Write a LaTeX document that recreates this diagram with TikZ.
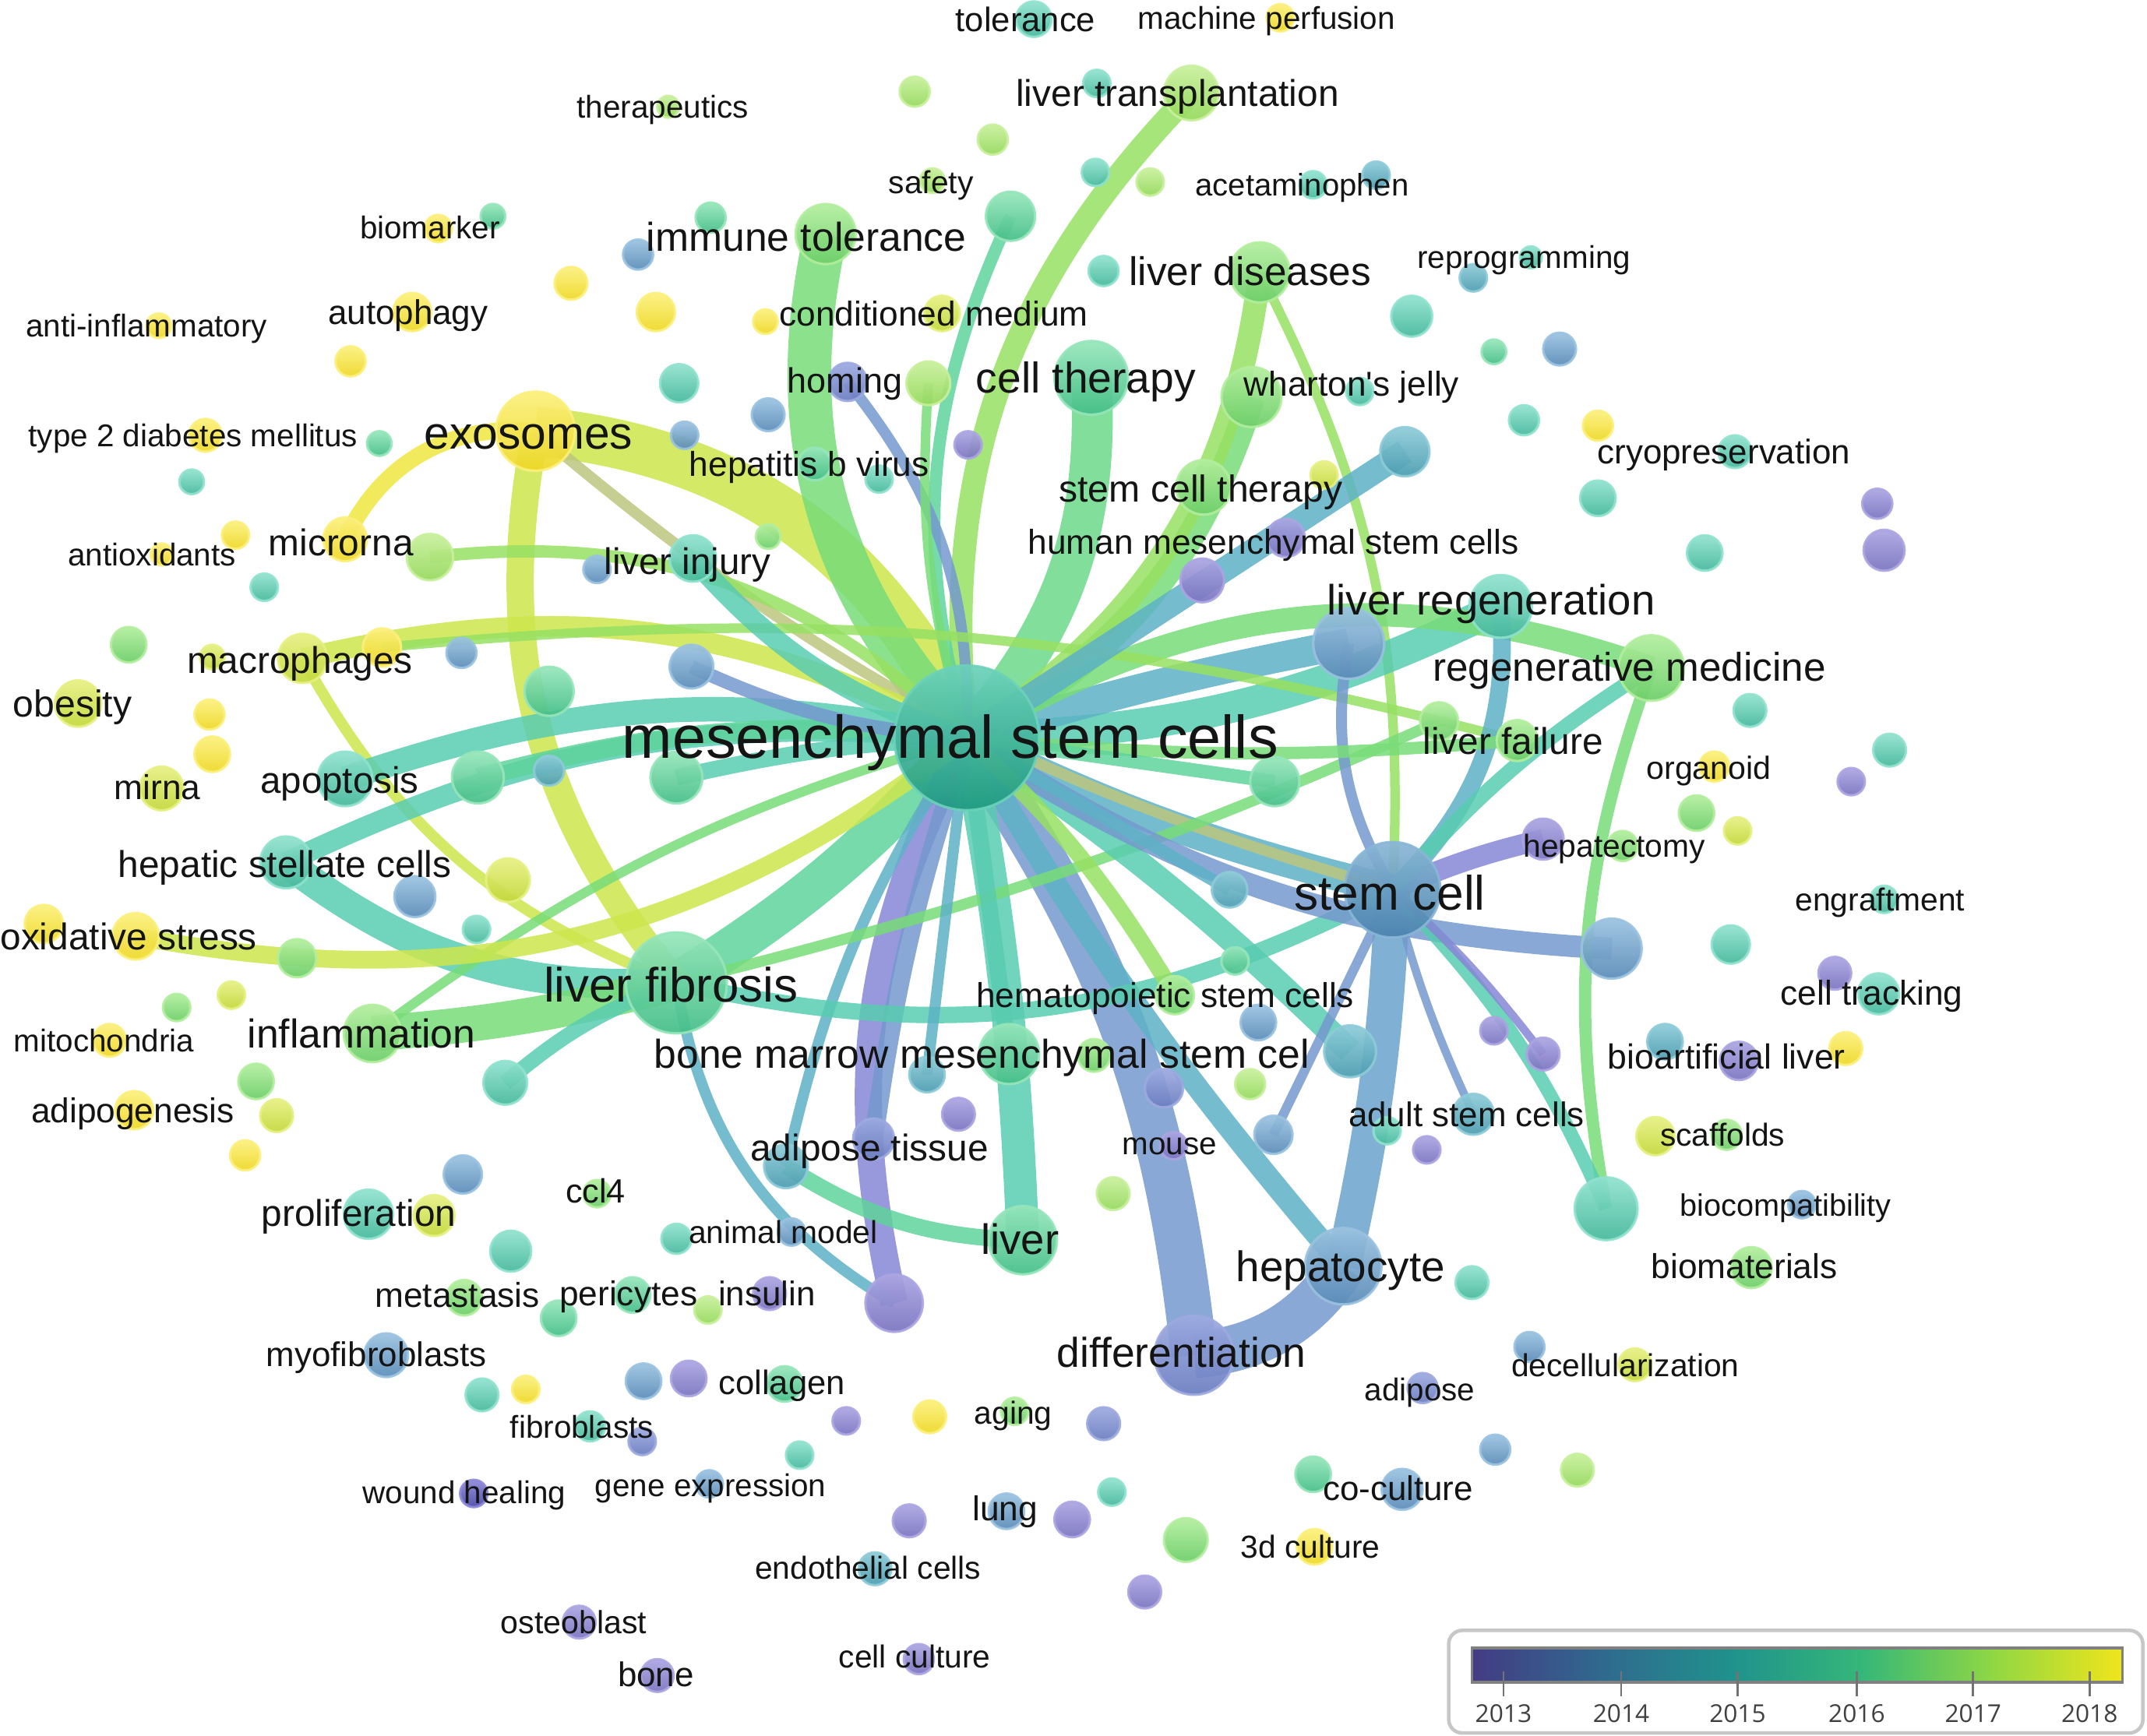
\documentclass[tikz,border=0pt]{standalone}
\usepackage{fontspec}
\setmainfont{Liberation Sans}
\newfontfamily\barfont{Open Sans}
\pgfdeclarelayer{background}
\pgfsetlayers{background,main}
% node colours (top / bottom)
\definecolor{taa}{HTML}{ABA5E2}\definecolor{baa}{HTML}{7A73C0}
\definecolor{tab}{HTML}{9DAAE0}\definecolor{bab}{HTML}{6A7DC0}
\definecolor{tbb}{HTML}{9AC2E0}\definecolor{bbb}{HTML}{5A8BB8}
\definecolor{tbt}{HTML}{8ECBD8}\definecolor{bbt}{HTML}{4A9CB0}
\definecolor{ttt}{HTML}{90E2CE}\definecolor{btt}{HTML}{45B89C}
\definecolor{ttg}{HTML}{96E6BA}\definecolor{btg}{HTML}{44BE88}
\definecolor{tgg}{HTML}{B2EE9E}\definecolor{bgg}{HTML}{6CCE68}
\definecolor{tlg}{HTML}{C8F09C}\definecolor{blg}{HTML}{95D95C}
\definecolor{tyg}{HTML}{E6F082}\definecolor{byg}{HTML}{C2D83A}
\definecolor{tyy}{HTML}{FCF07C}\definecolor{byy}{HTML}{EED826}
\definecolor{tms}{HTML}{6CD2BA}\definecolor{bms}{HTML}{1F9A80}
\definecolor{tsc}{HTML}{8AB6D6}\definecolor{bsc}{HTML}{4A84AE}
\definecolor{tdp}{HTML}{8C88D8}\definecolor{bdp}{HTML}{4A48A8}
% edge colours
\definecolor{eY}{HTML}{EEE640}
\definecolor{eYG}{HTML}{CDE64C}
\definecolor{eYGb}{HTML}{B8E05C}
\definecolor{eYT}{HTML}{BCC67E}
\definecolor{eLG}{HTML}{97E062}
\definecolor{eG}{HTML}{78DC78}
\definecolor{eGb}{HTML}{6CD98A}
\definecolor{eTG}{HTML}{5ED49C}
\definecolor{eT}{HTML}{58CCB0}
\definecolor{eBT}{HTML}{5DB2C6}
\definecolor{eB}{HTML}{7499CF}
\definecolor{eBb}{HTML}{6AA2CC}
\definecolor{eA}{HTML}{8686D6}
% colour bar
\definecolor{vA}{HTML}{433C84}
\definecolor{vB}{HTML}{30698E}
\definecolor{vC}{HTML}{20928C}
\definecolor{vD}{HTML}{35B779}
\definecolor{vE}{HTML}{90D743}
\definecolor{vF}{HTML}{F0E51C}
\newcommand\vn[5]{\node[vc,#5,minimum size=#4*0.9968pt] (#1) at (#2,#3) {};}
\newcommand\vl[5]{\node[lbl,font=\fontsize{#4pt}{#4pt}\selectfont,yshift=-#4*0.36pt] (#1) at (#2,#3) {#5};}
\begin{document}
\begin{tikzpicture}[x=0.017577cm,y=-0.017577cm,
  vc/.style={circle,inner sep=0pt,outer sep=0pt,line width=0.9pt,fill opacity=0.93,draw opacity=0.9},
  ca/.style={top color=taa,bottom color=baa,draw=taa},
  cab/.style={top color=tab,bottom color=bab,draw=tab},
  cb/.style={top color=tbb,bottom color=bbb,draw=tbb},
  cbt/.style={top color=tbt,bottom color=bbt,draw=tbt},
  ct/.style={top color=ttt,bottom color=btt,draw=ttt},
  ctg/.style={top color=ttg,bottom color=btg,draw=ttg},
  cg/.style={top color=tgg,bottom color=bgg,draw=tgg},
  clg/.style={top color=tlg,bottom color=blg,draw=tlg},
  cyg/.style={top color=tyg,bottom color=byg,draw=tyg},
  cy/.style={top color=tyy,bottom color=byy,draw=tyy},
  cms/.style={top color=tms,bottom color=bms,draw=tms},
  csc/.style={top color=tsc,bottom color=bsc,draw=tsc},
  cdp/.style={top color=tdp,bottom color=bdp,draw=tdp},
  lbl/.style={anchor=base,inner sep=0pt,text=black!92},
  lnk/.style n args={2}{line width=#1*0.4984pt,draw=#2,draw opacity=0.85,line cap=butt}]
\useasboundingbox (0,0) rectangle (1568,1268);
% ---------------- nodes ----------------
\vn{tol}{755}{14}{13}{ct}
\vn{mp}{935}{13}{10}{cy}
\vn{thp}{488}{78}{8}{clg}
\vn{n4}{668}{67}{11}{clg}
\vn{ltx}{870}{68}{20}{clg}
\vn{n6}{801}{61}{10}{ct}
\vn{n7}{725}{102}{11}{clg}
\vn{saf}{681}{132}{9}{clg}
\vn{n9}{800}{126}{10}{ct}
\vn{n10}{840}{133}{10}{clg}
\vn{acet}{959}{135}{10}{ct}
\vn{n12}{1005}{128}{10}{cbt}
\vn{n13}{519}{159}{11}{ctg}
\vn{n14}{738}{158}{18}{ctg}
\vn{bmk}{320}{167}{10}{cy}
\vn{n16}{360}{158}{9}{ctg}
\vn{imt}{603}{171}{22}{cg}
\vn{n18}{466}{186}{11}{cb}
\vn{ldis}{920}{199}{22}{cg}
\vn{n20}{806}{198}{11}{ct}
\vn{n21}{1076}{203}{10}{cbt}
\vn{rep}{1118}{188}{8}{ct}
\vn{n23}{417}{207}{12}{cy}
\vn{n24}{479}{228}{14}{cy}
\vn{aut}{301}{228}{14}{cy}
\vn{ainf}{116}{238}{9}{cy}
\vn{cm}{688}{229}{13}{cyg}
\vn{n28}{559}{235}{9}{cy}
\vn{n29}{1031}{231}{15}{ct}
\vn{n30}{256}{264}{11}{cy}
\vn{n31}{1139}{255}{12}{cb}
\vn{n32}{1091}{257}{9}{ctg}
\vn{n33}{496}{280}{14}{ct}
\vn{hom}{619}{279}{14}{cab}
\vn{n35}{678}{280}{16}{clg}
\vn{cth}{797}{276}{27}{ctg}
\vn{wj}{914}{290}{22}{cg}
\vn{n38}{993}{286}{10}{ct}
\vn{n39}{1113}{307}{11}{ct}
\vn{n40}{1167}{311}{11}{cy}
\vn{exo}{391}{315}{29}{cy}
\vn{t2d}{150}{318}{12}{cy}
\vn{n43}{277}{324}{9}{ctg}
\vn{n44}{500}{318}{10}{cb}
\vn{n45}{561}{303}{12}{cb}
\vn{n46}{707}{325}{10}{ca}
\vn{hbv}{595}{339}{12}{ctg}
\vn{n48}{642}{350}{10}{ct}
\vn{n49}{1026}{330}{18}{cbt}
\vn{cryo}{1267}{330}{12}{ct}
\vn{n51}{140}{352}{9}{ct}
\vn{n52}{1167}{364}{13}{ct}
\vn{n53}{1371}{368}{11}{ca}
\vn{sct}{879}{356}{20}{cg}
\vn{n55}{967}{347}{10}{cyg}
\vn{n56}{561}{392}{9}{cg}
\vn{hmsc}{939}{393}{14}{ca}
\vn{mir}{252}{394}{16}{cy}
\vn{n59}{314}{407}{17}{clg}
\vn{n60}{172}{391}{10}{cy}
\vn{aox}{118}{405}{8}{cy}
\vn{n62}{1376}{402}{15}{ca}
\vn{n63}{1245}{404}{13}{ct}
\vn{linj}{506}{408}{17}{ct}
\vn{n65}{436}{416}{10}{cb}
\vn{n66}{193}{429}{10}{ct}
\vn{n67}{878}{424}{16}{ca}
\vn{n68}{985}{470}{26}{cb}
\vn{lreg}{1096}{443}{23}{ct}
\vn{n70}{94}{471}{13}{cg}
\vn{mac}{221}{481}{18}{cyg}
\vn{n72}{279}{473}{14}{cy}
\vn{n73}{155}{480}{9}{cyg}
\vn{n74}{337}{477}{11}{cb}
\vn{n75}{401}{505}{18}{ctg}
\vn{n76}{505}{487}{16}{cb}
\vn{rmed}{1206}{488}{24}{cg}
\vn{obe}{57}{514}{17}{cyg}
\vn{n79}{153}{522}{11}{cy}
\vn{n80}{155}{551}{13}{cy}
\vn{mirna}{118}{576}{16}{cyg}
\vn{apo}{252}{569}{20}{ct}
\vn{n83}{349}{568}{19}{ctg}
\vn{n84}{401}{563}{11}{cbt}
\vn{n85}{494}{568}{19}{ctg}
\vn{lfail}{1108}{541}{15}{cg}
\vn{n87}{1051}{527}{14}{cg}
\vn{n88}{1278}{519}{12}{ct}
\vn{n89}{1380}{548}{12}{ct}
\vn{org}{1252}{560}{11}{cy}
\vn{n91}{1352}{571}{10}{ca}
\vn{n92}{1239}{594}{13}{cg}
\vn{n93}{1269}{607}{10}{cyg}
\vn{n94}{931}{571}{18}{ctg}
\vn{msc}{706}{539}{53}{cms}
\vn{hect}{1127}{613}{15}{ca}
\vn{n97}{1185}{618}{11}{cg}
\vn{hsc}{209}{630}{19}{ct}
\vn{n99}{371}{643}{16}{cyg}
\vn{n100}{303}{655}{15}{cb}
\vn{n101}{898}{650}{13}{cbt}
\vn{stc}{1017}{650}{35}{csc}
\vn{eng}{1376}{657}{10}{ct}
\vn{n104}{32}{675}{14}{cy}
\vn{oxs}{99}{684}{17}{cy}
\vn{n106}{348}{679}{10}{ct}
\vn{n107}{217}{700}{14}{cg}
\vn{n108}{1177}{693}{22}{cb}
\vn{n109}{1264}{690}{14}{ct}
\vn{n110}{1340}{711}{12}{ca}
\vn{ctr}{1372}{726}{15}{ct}
\vn{n112}{902}{702}{10}{ctg}
\vn{lfib}{494}{718}{37}{ctg}
\vn{hem}{858}{727}{14}{cg}
\vn{n115}{169}{727}{10}{cyg}
\vn{n116}{129}{736}{10}{cg}
\vn{mito}{80}{760}{12}{cy}
\vn{infl}{272}{755}{21}{cg}
\vn{n119}{919}{747}{13}{cb}
\vn{n120}{1091}{753}{10}{ca}
\vn{n121}{1127}{770}{12}{ca}
\vn{n122}{986}{768}{19}{cbt}
\vn{n123}{737}{770}{22}{ctg}
\vn{n124}{799}{771}{12}{cg}
\vn{n125}{677}{785}{13}{cbt}
\vn{n126}{850}{795}{14}{cab}
\vn{n127}{913}{792}{11}{clg}
\vn{bal1}{1216}{761}{13}{cbt}
\vn{bal2}{1270}{775}{14}{ca}
\vn{n130}{1348}{766}{12}{cy}
\vn{n131}{369}{791}{16}{ct}
\vn{n132}{187}{790}{13}{cg}
\vn{adg}{98}{811}{14}{cy}
\vn{n134}{202}{815}{12}{cyg}
\vn{n135}{700}{814}{12}{ca}
\vn{asc}{1076}{814}{15}{cbt}
\vn{n137}{930}{829}{14}{cb}
\vn{n138}{1042}{840}{10}{ca}
\vn{n139}{1013}{826}{10}{ct}
\vn{scf1}{1209}{830}{14}{cyg}
\vn{scf2}{1261}{829}{11}{cg}
\vn{n142}{179}{844}{11}{cy}
\vn{mou}{857}{837}{10}{ca}
\vn{adt}{574}{852}{16}{cbt}
\vn{n145}{638}{832}{15}{cab}
\vn{n146}{338}{858}{14}{cb}
\vn{pro}{269}{887}{18}{ct}
\vn{n148}{317}{888}{15}{cyg}
\vn{ccl}{436}{872}{10}{cg}
\vn{n150}{813}{872}{12}{clg}
\vn{n151}{1173}{883}{23}{ct}
\vn{bcp}{1316}{880}{10}{cb}
\vn{n153}{373}{914}{15}{ct}
\vn{ani}{494}{905}{11}{ct}
\vn{n155}{578}{900}{10}{cb}
\vn{liv}{747}{906}{25}{ctg}
\vn{hep}{981}{925}{28}{cb}
\vn{n158}{1075}{937}{12}{ct}
\vn{bmt}{1279}{926}{15}{cg}
\vn{met}{339}{948}{13}{cg}
\vn{n161}{408}{963}{13}{ctg}
\vn{per}{462}{946}{13}{ctg}
\vn{n163}{517}{957}{10}{clg}
\vn{ins}{562}{945}{12}{ca}
\vn{n165}{653}{952}{21}{ca}
\vn{myo}{282}{990}{16}{cb}
\vn{dif}{872}{990}{29}{cab}
\vn{adp}{1039}{1014}{11}{cab}
\vn{n169}{1117}{984}{11}{cb}
\vn{dec}{1194}{997}{12}{cyg}
\vn{n171}{352}{1019}{12}{ct}
\vn{n172}{384}{1015}{10}{cy}
\vn{n173}{470}{1009}{13}{cb}
\vn{n174}{503}{1007}{13}{ca}
\vn{col}{573}{1011}{13}{ctg}
\vn{fib}{431}{1042}{11}{ct}
\vn{n177}{469}{1053}{10}{cab}
\vn{n178}{618}{1038}{10}{ca}
\vn{n179}{679}{1035}{12}{cy}
\vn{agi}{741}{1031}{10}{cg}
\vn{n181}{806}{1040}{12}{cab}
\vn{n182}{584}{1063}{10}{ct}
\vn{n183}{812}{1090}{10}{ct}
\vn{n184}{1092}{1059}{11}{cb}
\vn{n185}{1152}{1074}{12}{clg}
\vn{gex}{518}{1084}{10}{cb}
\vn{wou}{346}{1091}{10}{cdp}
\vn{n188}{959}{1077}{13}{ctg}
\vn{coc}{1024}{1088}{15}{cb}
\vn{lun}{735}{1104}{13}{cb}
\vn{n191}{664}{1111}{12}{ca}
\vn{n192}{783}{1110}{13}{ca}
\vn{n193}{866}{1125}{16}{cg}
\vn{c3d}{960}{1130}{13}{cy}
\vn{endo}{639}{1146}{12}{cbt}
\vn{n196}{836}{1163}{12}{ca}
\vn{ost}{423}{1185}{12}{ca}
\vn{ccu}{671}{1212}{11}{ca}
\vn{bon}{480}{1224}{12}{ca}
% ---------------- links ----------------
\begin{pgfonlayer}{background}
\draw[lnk={36}{eYG}] (exo.center) to[bend left=30] (msc.center);
\draw[lnk={30}{eTG}] (lfib.center) to[bend right=8] (msc.center);
\draw[lnk={32}{eG}] (imt.center) to[bend right=28] (msc.center);
\draw[lnk={30}{eGb}] (cth.center) to[bend left=22] (msc.center);
\draw[lnk={17}{eLG}] (ltx.center) to[bend right=25] (msc.center);
\draw[lnk={9}{eTG}] (n14.center) to[bend right=20] (msc.center);
\draw[lnk={8}{eB}] (hom.center) to[bend left=20] (msc.center);
\draw[lnk={7}{eG}] (n35.center) to[bend right=10] (msc.center);
\draw[lnk={20}{eG}] (wj.center) to[bend left=22] (msc.center);
\draw[lnk={17}{eLG}] (ldis.center) to[bend left=25] (msc.center);
\draw[lnk={7}{eLG}] (ldis.center) to[bend left=15] (stc.center);
\draw[lnk={23}{eT}] (msc.center) to[bend right=12] (lreg.center);
\draw[lnk={22}{eBT}] (msc.center) to[bend left=3] (n68.center);
\draw[lnk={17}{eG}] (msc.center) to[bend left=25] (rmed.center);
\draw[lnk={22}{eBT}] (msc.center) to[bend right=6] (stc.center);
\draw[lnk={34}{eB}] (msc.center) to[bend left=14] (dif.center);
\draw[lnk={34}{eB}] (dif.center) to[bend right=25] (hep.center);
\draw[lnk={26}{eBb}] (stc.center) to[bend left=5] (hep.center);
\draw[lnk={16}{eBT}] (msc.center) to[bend right=5] (hep.center);
\draw[lnk={24}{eT}] (msc.center) to[bend left=4] (liv.center);
\draw[lnk={20}{eA}] (msc.center) to[bend right=20] (n165.center);
\draw[lnk={14}{eB}] (msc.center) to[bend right=5] (n145.center);
\draw[lnk={8}{eBT}] (msc.center) to[bend right=10] (adt.center);
\draw[lnk={12}{eTG}] (adt.center) to[bend right=15] (liv.center);
\draw[lnk={8}{eBT}] (lfib.center) to[bend right=25] (n165.center);
\draw[lnk={20}{eYG}] (exo.center) to[bend right=25] (lfib.center);
\draw[lnk={12}{eY}] (exo.center) to[bend right=35] (mir.center);
\draw[lnk={8}{eYT}] (exo.center) to[bend right=12] (stc.center);
\draw[lnk={15}{eYG}] (mac.center) to[bend left=20] (msc.center);
\draw[lnk={7}{eLG}] (n72.center) to[bend left=10] (lfail.center);
\draw[lnk={8}{eYG}] (mac.center) to[bend right=20] (lfib.center);
\draw[lnk={18}{eT}] (apo.center) to[bend left=15] (msc.center);
\draw[lnk={15}{eT}] (hsc.center) to[bend left=15] (msc.center);
\draw[lnk={22}{eT}] (hsc.center) to[bend right=20] (lfib.center);
\draw[lnk={26}{eG}] (infl.center) to[bend right=5] (lfib.center);
\draw[lnk={7}{eG}] (infl.center) to[bend left=10] (msc.center);
\draw[lnk={13}{eYG}] (oxs.center) to[bend right=24] (msc.center);
\draw[lnk={11}{eT}] (n131.center) to[bend left=10] (lfib.center);
\draw[lnk={9}{eLG}] (n59.center) to[bend left=25] (msc.center);
\draw[lnk={15}{eT}] (linj.center) to[bend right=15] (msc.center);
\draw[lnk={14}{eTG}] (n83.center) to[bend left=10] (msc.center);
\draw[lnk={12}{eT}] (n85.center) to[bend left=5] (msc.center);
\draw[lnk={10}{eB}] (n76.center) to[bend right=10] (msc.center);
\draw[lnk={8}{eG}] (lfib.center) to[bend right=5] (n87.center);
\draw[lnk={12}{eT}] (lfib.center) to[bend right=20] (stc.center);
\draw[lnk={18}{eT}] (msc.center) to[bend left=5] (n122.center);
\draw[lnk={15}{eA}] (stc.center) to[bend left=5] (hect.center);
\draw[lnk={16}{eB}] (msc.center) to[bend right=15] (n108.center);
\draw[lnk={8}{eB}] (n68.center) to[bend right=20] (stc.center);
\draw[lnk={13}{eBT}] (lreg.center) to[bend left=25] (stc.center);
\draw[lnk={9}{eG}] (rmed.center) to[bend right=15] (n151.center);
\draw[lnk={10}{eT}] (stc.center) to[bend left=10] (n151.center);
\draw[lnk={11}{eT}] (rmed.center) to[bend right=8] (stc.center);
\draw[lnk={9}{eG}] (msc.center) to[bend right=5] (lfail.center);
\draw[lnk={18}{eBT}] (msc.center) to (n49.center);
\draw[lnk={6}{eB}] (stc.center) to[bend right=5] (asc.center);
\draw[lnk={6}{eA}] (stc.center) to[bend left=5] (n121.center);
\draw[lnk={10}{eTG}] (msc.center) to (n94.center);
\draw[lnk={9}{eBT}] (msc.center) to (n101.center);
\draw[lnk={7}{eB}] (stc.center) to (n137.center);
\draw[lnk={12}{eLG}] (msc.center) to[bend left=8] (hem.center);
\draw[lnk={12}{eT}] (msc.center) to (n123.center);
\draw[lnk={8}{eBT}] (msc.center) to (n125.center);
\end{pgfonlayer}
% ---------------- labels ----------------
\vl{Ltol}{749}{14}{12.4}{tolerance}
\vl{Lmp}{925}{13}{11.5}{machine perfusion}
\vl{Lthp}{484}{78}{11.5}{therapeutics}
\vl{Lltx}{860}{68}{13.6}{liver transplantation}
\vl{Lsaf}{680}{133}{11.6}{safety}
\vl{Lacet}{951}{135}{11.4}{acetaminophen}
\vl{Lbmk}{314}{166}{11.5}{biomarker}
\vl{Limt}{589}{173}{14.7}{immune tolerance}
\vl{Lldis}{913}{198}{14.6}{liver diseases}
\vl{Lrep}{1113}{188}{11.5}{reprogramming}
\vl{Laut}{298}{228}{12.5}{autophagy}
\vl{Lainf}{107}{238}{11.5}{anti-inflammatory}
\vl{Lcm}{682}{229}{12.6}{conditioned medium}
\vl{Lhom}{617}{278}{12.8}{homing}
\vl{Lcth}{793}{276}{15.7}{cell therapy}
\vl{Lwj}{987}{280}{12.6}{wharton\XeTeXglyph\XeTeXcharglyph"0027 s jelly}
\vl{Lexo}{386}{316}{16.7}{exosomes}
\vl{Lt2d}{141}{318}{11.5}{type 2 diabetes mellitus}
\vl{Lhbv}{591}{339}{12.6}{hepatitis b virus}
\vl{Lcryo}{1259}{330}{12.5}{cryopreservation}
\vl{Lsct}{877}{357}{13.7}{stem cell therapy}
\vl{Lhmsc}{930}{396}{12.6}{human mesenchymal stem cells}
\vl{Lmir}{249}{396}{13.6}{microrna}
\vl{Laox}{111}{405}{11.5}{antioxidants}
\vl{Llinj}{502}{410}{13.5}{liver injury}
\vl{Llreg}{1089}{438}{15.5}{liver regeneration}
\vl{Lmac}{219}{482}{13.6}{macrophages}
\vl{Lrmed}{1190}{487}{14.6}{regenerative medicine}
\vl{Lobe}{53}{514}{13.7}{obesity}
\vl{Lmsc}{694}{538}{22}{mesenchymal stem cells}
\vl{Llfail}{1105}{541}{13.6}{liver failure}
\vl{Lorg}{1248}{561}{11.7}{organoid}
\vl{Lmirna}{115}{575}{12.6}{mirna}
\vl{Lapo}{248}{570}{13.5}{apoptosis}
\vl{Lhect}{1179}{618}{11.6}{hepatectomy}
\vl{Lhsc}{208}{631}{13.6}{hepatic stellate cells}
\vl{Lstc}{1015}{652}{17.7}{stem cell}
\vl{Leng}{1373}{657}{11.6}{engraftment}
\vl{Loxs}{94}{684}{13.6}{oxidative stress}
\vl{Llfib}{490}{719}{17.6}{liver fibrosis}
\vl{Lctr}{1367}{725}{12.6}{cell tracking}
\vl{Lhem}{851}{727}{12.6}{hematopoietic stem cells}
\vl{Linfl}{264}{755}{14.7}{inflammation}
\vl{Lmito}{76}{760}{11.5}{mitochondria}
\vl{Lbm}{717}{770}{14.7}{bone marrow mesenchymal stem cel}
\vl{Lbal}{1261}{772}{12.7}{bioartificial liver}
\vl{Ladg}{97}{811}{12.6}{adipogenesis}
\vl{Lasc}{1071}{814}{12.5}{adult stem cells}
\vl{Lscf}{1258}{829}{11.6}{scaffolds}
\vl{Lmou}{854}{835}{11.5}{mouse}
\vl{Ladt}{635}{838}{13.6}{adipose tissue}
\vl{Lccl}{435}{870}{12.3}{ccl4}
\vl{Lbcp}{1304}{880}{11.3}{biocompatibility}
\vl{Lpro}{262}{886}{13.6}{proliferation}
\vl{Lani}{572}{900}{11.6}{animal model}
\vl{Lliv}{745}{905}{15.5}{liver}
\vl{Lhep}{979}{925}{15.6}{hepatocyte}
\vl{Lbmt}{1274}{925}{12.6}{biomaterials}
\vl{Lmet}{334}{946}{12.6}{metastasis}
\vl{Lper}{459}{945}{12.6}{pericytes}
\vl{Lins}{560}{945}{12.5}{insulin}
\vl{Ldif}{863}{988}{15.2}{differentiation}
\vl{Lmyo}{275}{989}{12.5}{myofibroblasts}
\vl{Ldec}{1187}{997}{11.6}{decellularization}
\vl{Lcol}{571}{1010}{12.4}{collagen}
\vl{Ladp}{1037}{1015}{11.5}{adipose}
\vl{Lfib}{425}{1042}{11.5}{fibroblasts}
\vl{Lagi}{740}{1032}{11.6}{aging}
\vl{Lgex}{519}{1085}{11.5}{gene expression}
\vl{Lwou}{339}{1090}{11.5}{wound healing}
\vl{Lcoc}{1021}{1087}{12.5}{co-culture}
\vl{Llun}{734}{1102}{12.6}{lung}
\vl{Lc3d}{957}{1130}{11.6}{3d culture}
\vl{Lendo}{634}{1145}{11.6}{endothelial cells}
\vl{Lost}{419}{1185}{11.7}{osteoblast}
\vl{Lccu}{668}{1210}{11.6}{cell culture}
\vl{Lbon}{479}{1223}{12.5}{bone}
% ---------------- colour bar ----------------
\draw[draw=black!22,line width=1.3pt,rounded corners=5pt] (1058,1191) rectangle (1565,1266);
\shade[left color=vA,right color=vB] (1075,1204) rectangle (1170.5,1229);
\shade[left color=vB,right color=vC] (1170,1204) rectangle (1265.5,1229);
\shade[left color=vC,right color=vD] (1265,1204) rectangle (1360.5,1229);
\shade[left color=vD,right color=vE] (1360,1204) rectangle (1455.5,1229);
\shade[left color=vE,right color=vF] (1455,1204) rectangle (1550,1229);
\draw[draw=black!50,line width=1pt] (1075,1204) rectangle (1550,1229);
\foreach \tx/\yr in {1098/2013,1184/2014,1269/2015,1356/2016,1441/2017,1526/2018}{
  \draw[draw=black!55,line width=0.8pt] (\tx,1221) -- (\tx,1239);
  \node[font=\barfont\fontsize{9pt}{9pt}\selectfont,text=black!75,anchor=base] at (\tx,1258) {\yr};
}
\end{tikzpicture}
\end{document}
